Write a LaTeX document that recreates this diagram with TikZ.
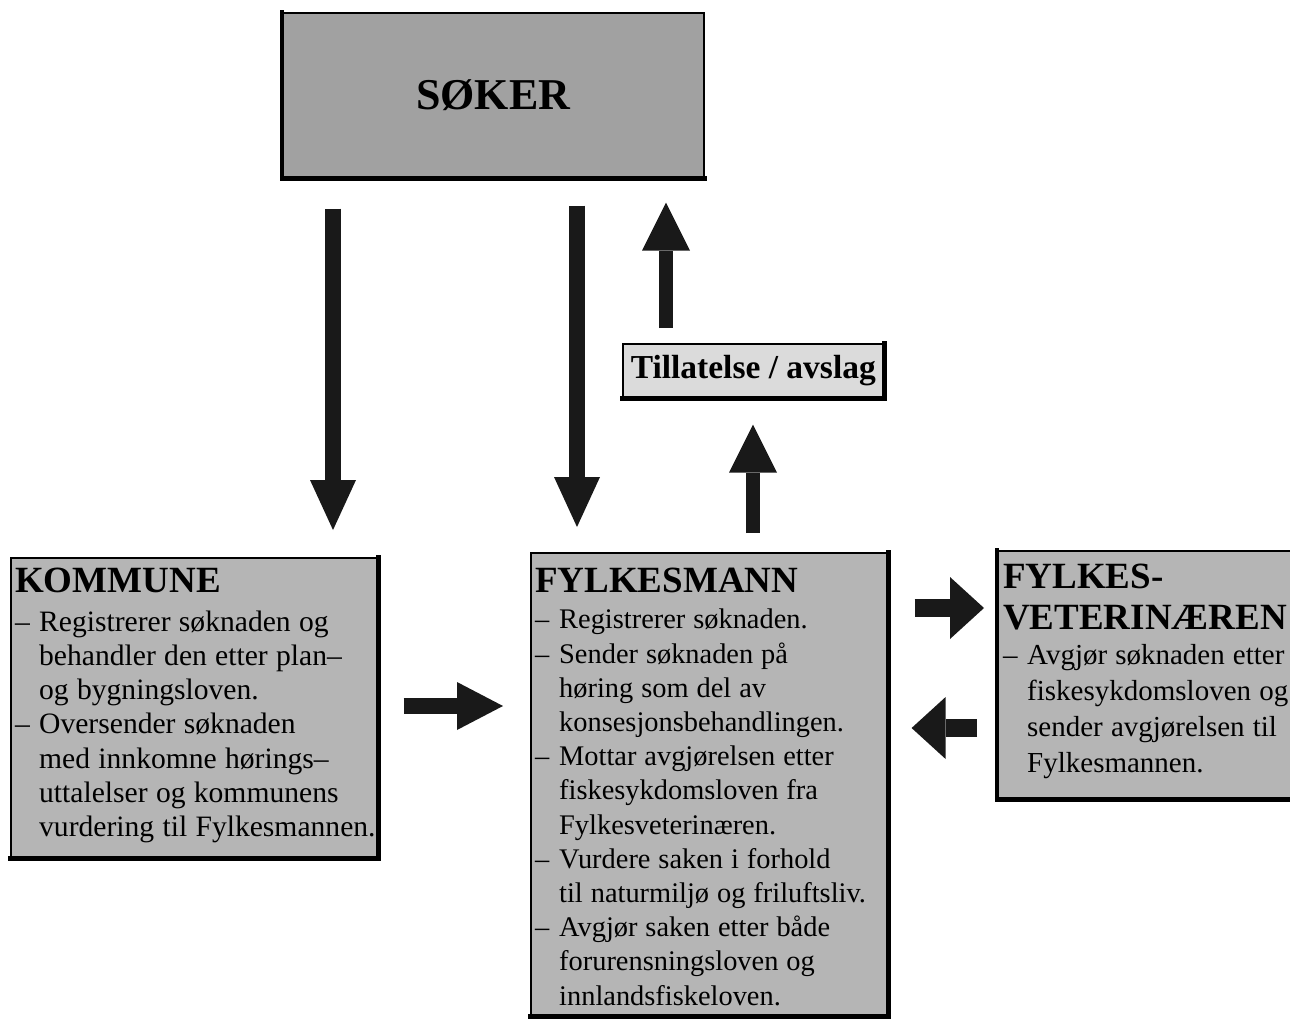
\documentclass[tikz,border=0pt]{standalone}
\usepackage{fontspec}
\setmainfont{Liberation Serif}
\usetikzlibrary{arrows.meta,calc}
\definecolor{boxg}{gray}{0.71}
\definecolor{sokg}{gray}{0.63}
\definecolor{tilg}{gray}{0.86}
\definecolor{arrc}{gray}{0.10}
\newcommand\ttlfont{\fontsize{37}{41}\selectfont\bfseries}
\newcommand\dl{\makebox[24pt][l]{–}}
\newcommand\ci{\hspace*{24pt}}
\newcommand\wsp{\spaceskip=0.28em plus 0.1em\relax}
\begin{document}
\begin{tikzpicture}[x=1pt,y=-1pt,
  box/.style={draw=black, line width=1.6pt, fill=boxg, inner sep=0pt, anchor=north west},
  shd/.style={draw=black, line width=4.5pt, line cap=rect},
  txt/.style={inner sep=0pt, anchor=north west, align=left, text width=#1},
  darr/.style={draw=arrc, line width=16pt, -{Triangle[width=46pt,length=50pt,line width=0pt]}},
  uarr/.style={draw=arrc, line width=13.5pt, -{Triangle[width=48pt,length=48pt,line width=0pt]}},
  harr/.style={draw=arrc, line width=16pt, -{Triangle[width=48pt,length=46pt,line width=0pt]}},
  varr/.style={draw=arrc, line width=18pt, -{Triangle[width=62pt,length=34pt,line width=0pt]}}]
\useasboundingbox (0,0) rectangle (1290,1019);
\fill[white] (0,0) rectangle (1290,1019);

% boxes
\node[box, fill=sokg, minimum width=421, minimum height=165] (soker) at (282,12)
  {\fontsize{44}{44}\selectfont\bfseries SØKER};
\node[box, fill=tilg, minimum width=261, minimum height=54] (till) at (622,343)
  {\fontsize{33.5}{34}\selectfont\bfseries Tillatelse / avslag};
\node[box, minimum width=367, minimum height=300] (kommune) at (10,557) {};
\node[box, minimum width=357, minimum height=463] (fylk) at (530,552) {};
\node[box, minimum width=320, minimum height=248] (vet) at (997,550) {};

% shadows
\draw[shd] (soker.north west) -- (soker.south west) -- (soker.south east);
\draw[shd] (till.south west) -- (till.south east) -- (till.north east);
\draw[shd] (kommune.south west) -- (kommune.south east) -- (kommune.north east);
\draw[shd] (fylk.south west) -- (fylk.south east) -- (fylk.north east);
\draw[shd] (vet.north west) -- (vet.south west) -- (vet.south east);

% texts
\node[txt=420] (kommunetxt) at (15,568) {%
  {\ttlfont KOMMUNE\par}\vspace{4pt}%
  {\fontsize{29.6}{34.3}\selectfont\wsp
  \dl Registrerer søknaden og\\
  \ci behandler den etter plan–\\
  \ci og bygningsloven.\\
  \dl Oversender søknaden\\
  \ci med innkomne hørings–\\
  \ci uttalelser og kommunens\\
  \ci vurdering til Fylkesmannen.\par}};

\node[txt=400] (fylktxt) at (535,568) {%
  {\ttlfont FYLKESMANN\par}\vspace{2pt}%
  {\fontsize{28.4}{34.2}\selectfont\wsp
  \dl Registrerer søknaden.\\
  \dl Sender søknaden på\\
  \ci høring som del av\\
  \ci konsesjonsbehandlingen.\\
  \dl Mottar avgjørelsen etter\\
  \ci fiskesykdomsloven fra\\
  \ci Fylkesveterinæren.\\
  \dl Vurdere saken i forhold\\
  \ci til naturmiljø og friluftsliv.\\
  \dl Avgjør saken etter både\\
  \ci forurensningsloven og\\
  \ci innlandsfiskeloven.\par}};

\node[txt=300] (vettxt) at (1003,564) {%
  {\ttlfont FYLKES-\\VETERINÆREN\par}\vspace{-1.5pt}%
  {\fontsize{29}{36}\selectfont\wsp
  \dl Avgjør søknaden etter\\
  \ci fiskesykdomsloven og\\
  \ci sender avgjørelsen til\\
  \ci Fylkesmannen.\par}};

% arrows
\coordinate (c1) at (333,0);
\coordinate (c2) at (577,0);
\coordinate (c3) at (666,0);
\coordinate (c4) at (753,0);
\coordinate (c5) at (0,706);
\coordinate (c6) at (0,608);
\coordinate (c7) at (0,728);
\draw[darr] ($(soker.south -| c1)+(0,30)$) -- ($(kommune.north -| c1)+(0,-27)$);
\draw[darr] ($(soker.south -| c2)+(0,27)$) -- ($(fylk.north -| c2)+(0,-25)$);
\draw[uarr] ($(till.north -| c3)+(0,-15)$) -- ($(soker.south -| c3)+(0,24)$);
\draw[uarr] ($(fylk.north -| c4)+(0,-19)$) -- ($(till.south -| c4)+(0,26)$);
\draw[harr] ($(kommune.east |- c5)+(25,0)$) -- ($(fylk.west |- c5)+(-27,0)$);
\draw[varr] ($(fylk.east |- c6)+(26,0)$) -- ($(vet.west |- c6)+(-13,0)$);
\draw[varr] ($(vet.west |- c7)+(-20,0)$) -- ($(fylk.east |- c7)+(23,0)$);
\end{tikzpicture}
\end{document}
